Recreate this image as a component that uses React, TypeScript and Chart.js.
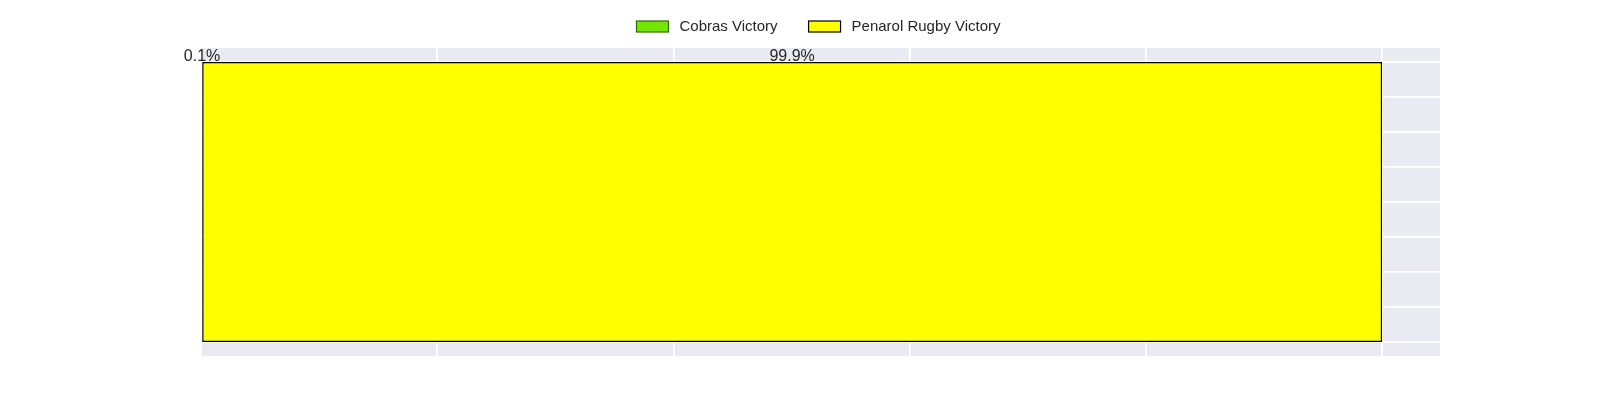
import React, { useEffect, useRef } from "react";
import { Chart, registerables } from "chart.js";

Chart.register(...registerables);

const categories = ["Match"];
const seriesNames = ["Cobras Victory", "Penarol Rugby Victory"];
const seriesColors = ["#74E600", "#FFFF00"];
const seriesBorders = ["#2f6a00", "#000000"];
const cobrasValues = [0.1];
const penarolValues = [99.9];
const xGridTicks = [0, 20, 40, 60, 80, 100];
const yGridTicks = [-0.4, -0.3, -0.2, -0.1, 0, 0.1, 0.2, 0.3, 0.4];

const FONT = "'Liberation Sans', Arial, sans-serif";

const bgPlugin = {
  id: "plotBg",
  beforeDraw(chart: any) {
    const { ctx, chartArea } = chart;
    ctx.save();
    ctx.fillStyle = "#EAEAF2";
    ctx.fillRect(chartArea.left, chartArea.top, chartArea.right - chartArea.left, chartArea.bottom - chartArea.top);
    ctx.restore();
  },
};

const legendPlugin = {
  id: "customLegend",
  afterDraw(chart: any) {
    const { ctx, chartArea } = chart;
    ctx.save();
    ctx.font = `15px ${FONT}`;
    const boxW = 32, boxH = 11, gap = 11, itemGap = 31;
    const items = chart.data.datasets.map((ds: any) => ({
      text: ds.label,
      fill: ds.backgroundColor,
      stroke: ds.borderColor,
      w: ctx.measureText(ds.label).width,
    }));
    const total = items.reduce((s: number, it: any) => s + boxW + gap + it.w, 0) + itemGap * (items.length - 1);
    let x = (chartArea.left + chartArea.right) / 2 - total / 2 - 2;
    const cy = 26.5;
    ctx.textBaseline = "middle";
    ctx.textAlign = "left";
    items.forEach((it: any) => {
      ctx.fillStyle = it.fill;
      ctx.fillRect(x, cy - boxH / 2, boxW, boxH);
      ctx.lineWidth = 1.2;
      ctx.strokeStyle = it.stroke;
      ctx.strokeRect(x, cy - boxH / 2, boxW, boxH);
      ctx.fillStyle = "#262626";
      ctx.fillText(it.text, x + boxW + gap, cy);
      x += boxW + gap + it.w + itemGap;
    });
    ctx.restore();
  },
};

const labelPlugin = {
  id: "segLabels",
  afterDatasetsDraw(chart: any) {
    const { ctx } = chart;
    ctx.save();
    ctx.font = `16px ${FONT}`;
    ctx.fillStyle = "#262626";
    ctx.textAlign = "center";
    ctx.textBaseline = "alphabetic";
    chart.data.datasets.forEach((ds: any, di: number) => {
      const meta = chart.getDatasetMeta(di);
      meta.data.forEach((el: any, i: number) => {
        const p = el.getProps(["x", "y", "base", "height"], true);
        const cx = (p.x + p.base) / 2;
        const top = p.y - p.height / 2;
        ctx.fillText(`${ds.data[i]}%`, cx, top - 1);
      });
    });
    ctx.restore();
  },
};

export default function App() {
  const ref = useRef<HTMLCanvasElement>(null);
  useEffect(() => {
    document.body.style.margin = "0";
    const mk = (i: number, data: number[]) => ({
      label: seriesNames[i],
      data,
      backgroundColor: seriesColors[i],
      borderColor: seriesBorders[i],
      borderWidth: 1.5,
      borderSkipped: false,
      categoryPercentage: 0.8 / 0.88,
      barPercentage: 1,
    });
    const chart = new Chart(ref.current!, {
      type: "bar",
      data: {
        labels: categories,
        datasets: [mk(0, cobrasValues), mk(1, penarolValues)],
      },
      options: {
        indexAxis: "y",
        animation: false,
        responsive: false,
        maintainAspectRatio: false,
        layout: { padding: { left: 201, right: 160, top: 48, bottom: 44 } },
        plugins: {
          legend: { display: false },
          tooltip: { enabled: false },
        },
        scales: {
          x: {
            type: "linear",
            stacked: true,
            min: 0,
            max: 104.9,
            afterBuildTicks: (s: any) => {
              s.ticks = xGridTicks.map((v) => ({ value: v }));
            },
            ticks: { display: false },
            grid: { color: "#FFFFFF", lineWidth: 1.8, drawTicks: false },
            border: { display: false },
          },
          y: {
            type: "category",
            stacked: true,
            ticks: { display: false },
            grid: { display: false, drawTicks: false },
            border: { display: false },
          },
          yGrid: {
            type: "linear",
            axis: "y",
            position: "left",
            offset: false,
            min: -0.44,
            max: 0.44,
            afterBuildTicks: (s: any) => {
              s.ticks = yGridTicks.map((v) => ({ value: v }));
            },
            ticks: { display: false },
            grid: { color: "#FFFFFF", lineWidth: 1.8, drawTicks: false, offset: false },
            border: { display: false },
          },
        },
      },
      plugins: [bgPlugin, labelPlugin, legendPlugin],
    } as any);
    return () => chart.destroy();
  }, []);
  return <canvas ref={ref} width={1600} height={400} style={{ display: "block" }} />;
}
